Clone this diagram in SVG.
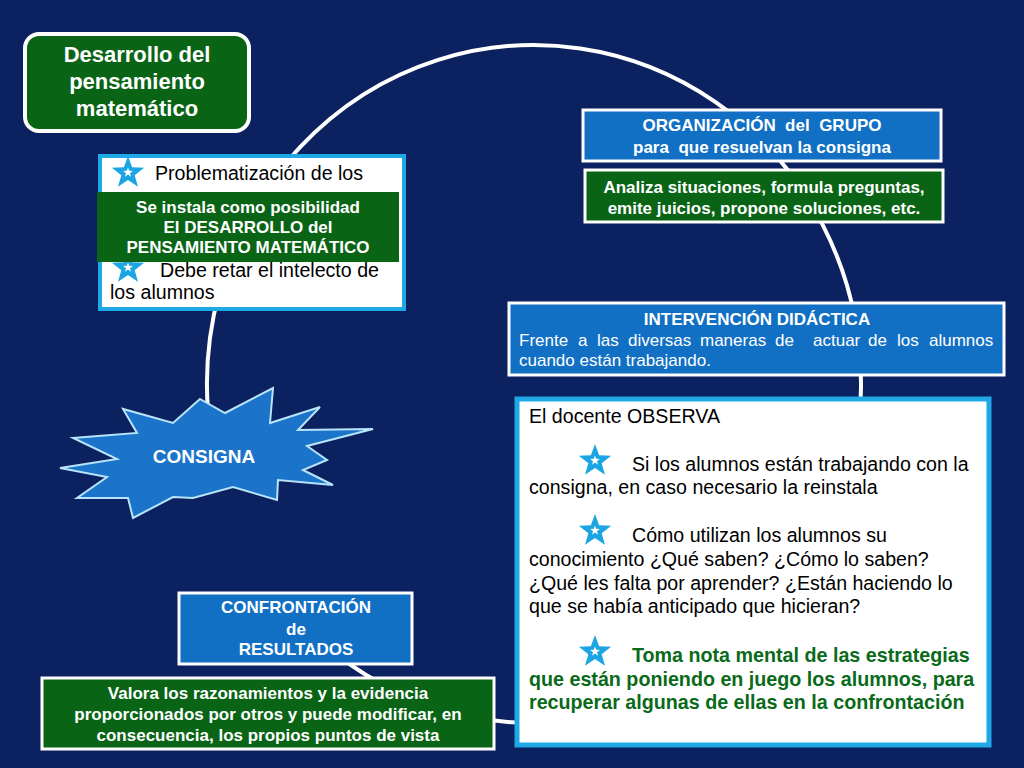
<svg xmlns="http://www.w3.org/2000/svg" width="1024" height="768" viewBox="0 0 1024 768">
<defs>
<style>
.bg{fill:#0b2160}
.arc{fill:none;stroke:#ffffff;stroke-width:4}
.blue{fill:#1170c4;stroke:#ffffff;stroke-width:3}
.green{fill:#0a6416;stroke:#ffffff;stroke-width:3}
.wbox{fill:#ffffff;stroke:#1fa8e6;stroke-width:4}
.tb{font-family:"Liberation Sans",Arial,sans-serif;font-weight:bold;fill:#ffffff;font-size:17px;text-anchor:middle}
.tr{font-family:"Liberation Sans",Arial,sans-serif;fill:#000000;font-size:19.6px}
.tw{font-family:"Liberation Sans",Arial,sans-serif;fill:#ffffff;font-size:17px}
.tg{font-family:"Liberation Sans",Arial,sans-serif;font-weight:bold;fill:#0a6a1a;font-size:19.7px}
</style>
<g id="star">
<path d="M0,-17 L4.11,-5.66 L16.17,-5.25 L6.66,2.16 L9.99,13.75 L0,7 L-9.99,13.75 L-6.66,2.16 L-16.17,-5.25 L-4.11,-5.66 Z" fill="#1ba5e3"/>
<path d="M0,-17 L4.11,-5.66 L16.17,-5.25 L6.66,2.16 L9.99,13.75 L0,7 L-9.99,13.75 L-6.66,2.16 L-16.17,-5.25 L-4.11,-5.66 Z" fill="#ffffff" transform="translate(0,-0.5) scale(0.3)"/>
</g>
</defs>
<rect class="bg" x="0" y="0" width="1024" height="768"/>

<g id="connectors">
<path class="arc" d="M211.5,440 A327,339 0 1 1 309,630"/>
</g>

<g id="node-titulo">
<rect x="25" y="34" width="224" height="97" rx="14" ry="14" fill="#0a6416" stroke="#ffffff" stroke-width="4"/>
<text class="tb" style="font-size:22px" x="137" y="62">Desarrollo del</text>
<text class="tb" style="font-size:22px" x="137" y="89">pensamiento</text>
<text class="tb" style="font-size:22px" x="137" y="116">matemático</text>
</g>

<g id="node-problematizacion">
<rect class="wbox" x="100" y="156" width="304" height="153"/>
<use href="#star" x="128" y="173"/>
<text class="tr" x="155" y="180">Problematización de los</text>
<use href="#star" x="128" y="268"/>
<text class="tr" x="160" y="277">Debe retar el intelecto de</text>
<text class="tr" x="110" y="299">los alumnos</text>
</g>

<g id="node-se-instala">
<rect x="97" y="192" width="302" height="70" fill="#0a6416"/>
<text class="tb" x="248" y="213">Se instala como posibilidad</text>
<text class="tb" x="248" y="233">El DESARROLLO del</text>
<text class="tb" x="248" y="253">PENSAMIENTO MATEMÁTICO</text>
</g>

<g id="node-organizacion">
<rect class="blue" x="583" y="110" width="358" height="51"/>
<text class="tb" x="762" y="131" xml:space="preserve">ORGANIZACIÓN  del  GRUPO</text>
<text class="tb" x="762" y="153" xml:space="preserve">para  que resuelvan la consigna</text>
</g>

<g id="node-analiza">
<rect class="green" x="585" y="170" width="358" height="52"/>
<text class="tb" x="764" y="193">Analiza situaciones, formula preguntas,</text>
<text class="tb" x="764" y="214">emite juicios, propone soluciones, etc.</text>
</g>

<g id="node-intervencion">
<rect class="blue" x="509" y="303" width="495" height="72"/>
<text class="tb" x="757" y="325">INTERVENCIÓN DIDÁCTICA</text>
<text class="tw" y="346"><tspan x="519">Frente</tspan><tspan x="578">a</tspan><tspan x="597">las</tspan><tspan x="628">diversas</tspan><tspan x="700">maneras</tspan><tspan x="775">de</tspan><tspan x="813">actuar</tspan><tspan x="868">de</tspan><tspan x="897">los</tspan><tspan x="929">alumnos</tspan></text>
<text class="tw" x="519" y="366">cuando están trabajando.</text>
</g>

<g id="node-consigna">
<polygon points="200,399 225,413 273,388 270,423 320,407 298,430 373,429 307,446 327,460 303,470 333,485 278,480 277,500 233,487 193,498 173,497 133,518 128,498 77,498 107,477 60,468 117,459 73,438 137,433 123,409 173,423" fill="#1b74c9" stroke="#b8e4fa" stroke-width="2" stroke-linejoin="miter"/>
<text class="tb" style="font-size:19px" x="204" y="463">CONSIGNA</text>
</g>

<g id="node-observa">
<rect x="517" y="399" width="472" height="346" fill="#ffffff" stroke="#1fa8e6" stroke-width="5"/>
<text class="tr" x="529" y="423">El docente OBSERVA</text>
<use href="#star" x="595" y="461"/>
<text class="tr" x="632" y="471">Si los alumnos están trabajando con la</text>
<text class="tr" x="529" y="494">consigna, en caso necesario la reinstala</text>
<use href="#star" x="595" y="531"/>
<text class="tr" x="632" y="542">Cómo utilizan los alumnos su</text>
<text class="tr" x="529" y="566">conocimiento ¿Qué saben? ¿Cómo lo saben?</text>
<text class="tr" x="529" y="590">¿Qué les falta por aprender? ¿Están haciendo lo</text>
<text class="tr" x="529" y="613">que se había anticipado que hicieran?</text>
<use href="#star" x="595" y="652"/>
<text class="tg" x="632" y="662">Toma nota mental de las estrategias</text>
<text class="tg" x="529" y="686">que están poniendo en juego los alumnos, para</text>
<text class="tg" x="529" y="709">recuperar algunas de ellas en la confrontación</text>
</g>

<g id="node-confrontacion">
<rect class="blue" x="179" y="593" width="233" height="71"/>
<text class="tb" x="296" y="613">CONFRONTACIÓN</text>
<text class="tb" x="296" y="635">de</text>
<text class="tb" x="296" y="655">RESULTADOS</text>
</g>

<g id="node-valora">
<rect class="green" x="42" y="678" width="452" height="71"/>
<text class="tb" x="268" y="699">Valora los razonamientos y la evidencia</text>
<text class="tb" x="268" y="720">proporcionados por otros y puede modificar, en</text>
<text class="tb" x="268" y="741">consecuencia, los propios puntos de vista</text>
</g>
</svg>
